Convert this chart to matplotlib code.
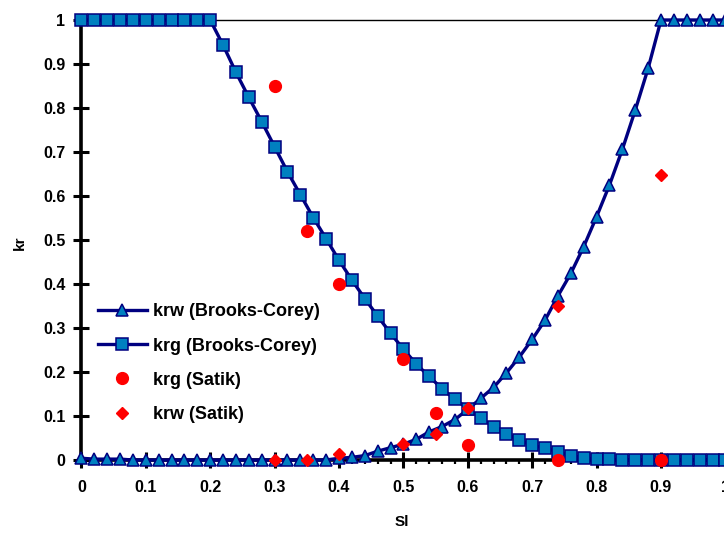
import numpy as np
import matplotlib
matplotlib.use("Agg")
import matplotlib.pyplot as plt
from matplotlib.font_manager import FontProperties
from matplotlib.ticker import MultipleLocator

plt.rcParams['font.family'] = ['Liberation Sans', 'DejaVu Sans']

# ---- data ----
sl = [0.00, 0.02, 0.04, 0.06, 0.08, 0.10, 0.12, 0.14, 0.16, 0.18,
      0.20, 0.22, 0.24, 0.26, 0.28, 0.30, 0.32, 0.34, 0.36, 0.38,
      0.40, 0.42, 0.44, 0.46, 0.48, 0.50, 0.52, 0.54, 0.56, 0.58,
      0.60, 0.62, 0.64, 0.66, 0.68, 0.70, 0.72, 0.74, 0.76, 0.78,
      0.80, 0.82, 0.84, 0.86, 0.88, 0.90, 0.92, 0.94, 0.96, 0.98, 1.00]

krw_bc = [0.004, 0.002, 0.002, 0.002, 0.0, 0.0, 0.0, 0.0, 0.0, 0.0,
          0.0, 0.0, 0.0, 0.0, 0.0, 0.0, 0.0, 0.0, 0.0, 0.0,
          0.004, 0.006, 0.010, 0.020, 0.028, 0.036, 0.047, 0.064, 0.076, 0.092,
          0.115, 0.140, 0.165, 0.198, 0.234, 0.274, 0.318, 0.373, 0.424, 0.485,
          0.553, 0.625, 0.706, 0.795, 0.890, 1.0, 1.0, 1.0, 1.0, 1.0, 1.0]

krg_bc = [1.0, 1.0, 1.0, 1.0, 1.0, 1.0, 1.0, 1.0, 1.0, 1.0,
          1.0, 0.943, 0.881, 0.824, 0.769, 0.712, 0.655, 0.603, 0.551, 0.503,
          0.454, 0.409, 0.367, 0.327, 0.288, 0.252, 0.218, 0.190, 0.162, 0.138,
          0.117, 0.095, 0.076, 0.058, 0.046, 0.033, 0.027, 0.019, 0.010, 0.005,
          0.002, 0.002, 0.0, 0.0, 0.0, 0.0, 0.0, 0.0, 0.0, 0.0, 0.0]

sl_satik = [0.30, 0.35, 0.40, 0.50, 0.55, 0.60, 0.74, 0.90]
krg_satik = [0.85, 0.52, 0.40, 0.23, 0.107, 0.034, 0.0, 0.0]
krw_satik = [0.0, 0.0, 0.014, 0.037, 0.058, 0.118, 0.35, 0.648]

x_ticks = [0, 0.1, 0.2, 0.3, 0.4, 0.5, 0.6, 0.7, 0.8, 0.9, 1.0]
x_ticklabels = ['0', '0.1', '0.2', '0.3', '0.4', '0.5', '0.6', '0.7', '0.8', '0.9', '1']
y_ticks = [0, 0.1, 0.2, 0.3, 0.4, 0.5, 0.6, 0.7, 0.8, 0.9, 1.0]
y_ticklabels = ['0', '0.1', '0.2', '0.3', '0.4', '0.5', '0.6', '0.7', '0.8', '0.9', '1']

labels = ['krw (Brooks-Corey)', 'krg (Brooks-Corey)', 'krg (Satik)', 'krw (Satik)']

# ---- figure ----
W, H = 724, 533
fig = plt.figure(figsize=(W / 100, H / 100), dpi=100)
ax = fig.add_axes([81.4 / W, 73 / H, 644 / W, 440 / H])

navy = '#000080'
fill = '#0080C0'
red = '#FF0000'

l1, = ax.plot(sl, krw_bc, color=navy, lw=2.4, marker='^', markersize=8.5,
              markerfacecolor=fill, markeredgecolor=navy, markeredgewidth=1.1,
              clip_on=False, zorder=3)
l2, = ax.plot(sl, krg_bc, color=navy, lw=2.4, marker='s', markersize=8,
              markerfacecolor=fill, markeredgecolor=navy, markeredgewidth=1.1,
              clip_on=False, zorder=3)
l3, = ax.plot(sl_satik, krg_satik, linestyle='none', marker='o', markersize=8.5,
              markerfacecolor=red, markeredgecolor=red, clip_on=False, zorder=4)
l4, = ax.plot(sl_satik, krw_satik, linestyle='none', marker='D', markersize=6.5,
              markerfacecolor=red, markeredgecolor=red, clip_on=False, zorder=4)

ax.set_xlim(0, 1)
ax.set_ylim(0, 1)

ax.set_xticks(x_ticks)
ax.set_xticklabels(x_ticklabels)
ax.set_yticks(y_ticks)
ax.set_yticklabels(y_ticklabels)
ax.xaxis.set_minor_locator(MultipleLocator(0.02))

tick_font = FontProperties(family='Liberation Sans', weight='bold', size=11.5)
for lab in ax.get_xticklabels() + ax.get_yticklabels():
    lab.set_fontproperties(tick_font)

ax.tick_params(axis='both', which='major', direction='inout', length=11, width=2.2,
               color='black')
ax.tick_params(axis='x', which='major', pad=9)
ax.tick_params(axis='y', which='major', pad=6)
ax.tick_params(axis='x', which='minor', direction='out', length=3, width=1.6)

ax.spines['left'].set_linewidth(2.6)
ax.spines['bottom'].set_linewidth(2.6)
ax.spines['top'].set_linewidth(1.0)
ax.spines['right'].set_visible(False)

label_font = FontProperties(family='Liberation Sans', weight='bold', size=11)
ax.set_xlabel('Sl', fontproperties=label_font)
ax.set_ylabel('kr', fontproperties=label_font)
ax.xaxis.set_label_coords((402 - 81.4) / 644, -0.125)
ax.yaxis.set_label_coords(-0.0845, 0.493)

leg_size = 13
leg_font = FontProperties(family='Liberation Sans', weight='bold', size=leg_size)
fs_px = leg_size * 100 / 72
ax.legend([l1, l2, l3, l4], labels, loc='upper left',
          bbox_to_anchor=(98 / W, 1 - 303.5 / H), bbox_transform=fig.transFigure,
          frameon=False, borderpad=0, borderaxespad=0, numpoints=1,
          handlelength=49 / fs_px, handletextpad=6 / fs_px, labelspacing=0.95,
          prop=leg_font)

fig.savefig('out.png', dpi=100)
